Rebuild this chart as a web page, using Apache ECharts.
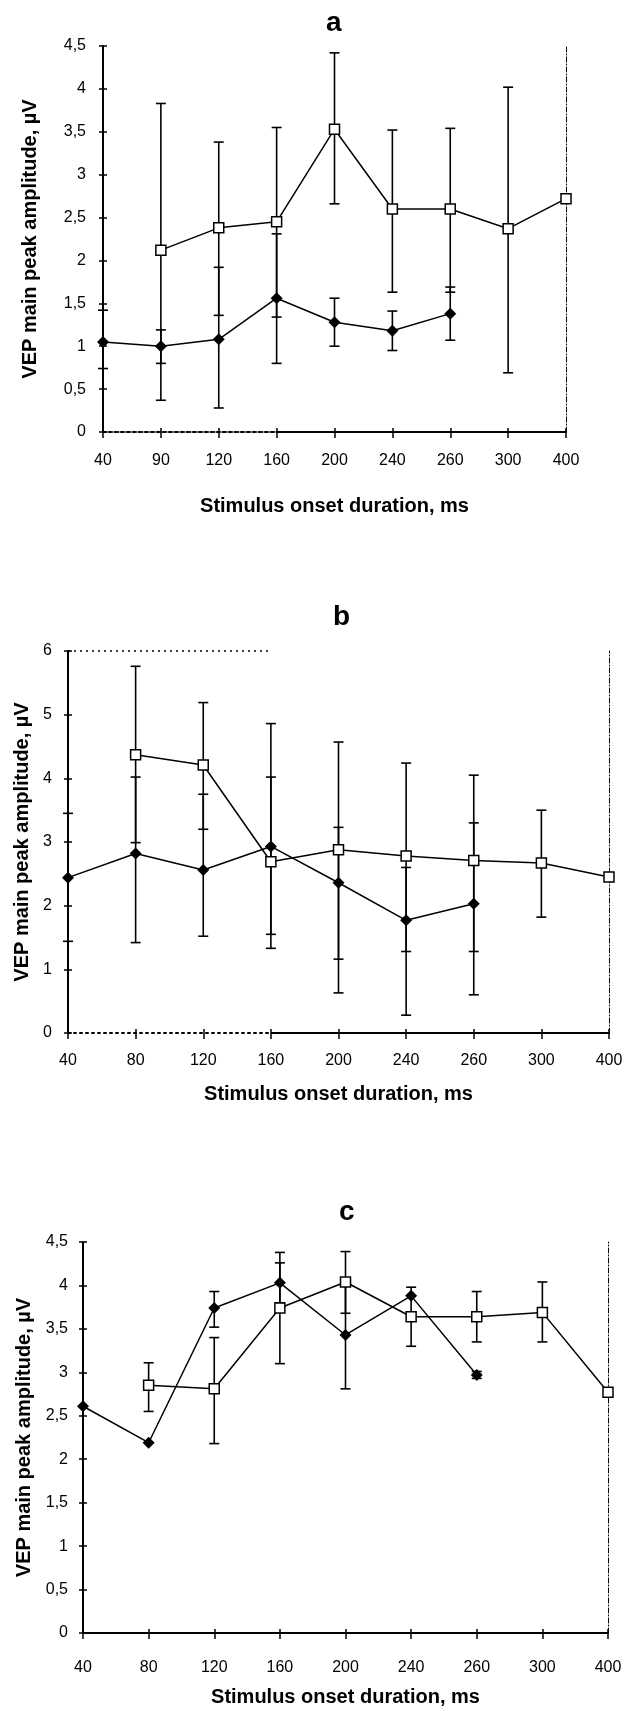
<!DOCTYPE html>
<html>
<head>
<meta charset="utf-8">
<script src="https://cdn.jsdelivr.net/npm/echarts@6/dist/echarts.min.js"></script>
<style>
html, body { margin: 0; padding: 0; background: #fff; }
#main { width: 626px; height: 1711px; }
</style>
</head>
<body>
<div id="main"></div>
<script>
// x categories (stimulus onset duration, ms)
var catsA = ['40', '90', '120', '160', '200', '240', '260', '300', '400'];
var catsB = ['40', '80', '120', '160', '200', '240', '260', '300', '400'];
var catsC = ['40', '80', '120', '160', '200', '240', '260', '300', '400'];

// y tick values
var yTicksA = [0, 0.5, 1, 1.5, 2, 2.5, 3, 3.5, 4, 4.5];
var yTicksB = [0, 1, 2, 3, 4, 5, 6];
var yTicksC = [0, 0.5, 1, 1.5, 2, 2.5, 3, 3.5, 4, 4.5];

// panel a
var aOpen     = [null, 2.12, 2.38, 2.45, 3.53, 2.60, 2.60, 2.37, 2.72];
var aOpenLo   = [null, 0.37, 1.36, 1.34, 2.66, 1.63, 1.63, 0.69, null];
var aOpenHi   = [null, 3.83, 3.38, 3.55, 4.42, 3.52, 3.54, 4.02, null];
var aFilled   = [1.05, 1.00, 1.08, 1.56, 1.28, 1.18, 1.38, null, null];
var aFilledLo = [0.74, 0.80, 0.28, 0.80, 1.00, 0.95, 1.07, null, null];
var aFilledHi = [1.42, 1.19, 1.92, 2.31, 1.56, 1.41, 1.69, null, null];

// panel b
var bOpen     = [null, 4.37, 4.21, 2.69, 2.88, 2.78, 2.71, 2.67, 2.45];
var bOpenLo   = [null, 2.99, 3.20, 1.33, 1.16, 1.28, 1.28, 1.82, null];
var bOpenHi   = [null, 5.76, 5.19, 4.86, 4.57, 4.24, 4.05, 3.50, null];
var bFilled   = [2.44, 2.82, 2.56, 2.93, 2.36, 1.77, 2.03, null, null];
var bFilledLo = [1.44, 1.42, 1.52, 1.55, 0.63, 0.28, 0.60, null, null];
var bFilledHi = [3.45, 4.02, 3.75, 4.02, 3.23, 2.60, 3.30, null, null];

// panel c
var cOpen     = [null, 2.85, 2.81, 3.74, 4.04, 3.64, 3.64, 3.69, 2.77];
var cOpenLo   = [null, 2.55, 2.18, 3.10, 3.68, 3.30, 3.35, 3.35, null];
var cOpenHi   = [null, 3.11, 3.40, 4.38, 4.39, 3.98, 3.93, 4.04, null];
var cFilled   = [2.61, 2.19, 3.74, 4.03, 3.43, 3.88, 2.97, null, null];
var cFilledLo = [null, null, 3.52, 3.80, 2.81, null, 2.93, null, null];
var cFilledHi = [null, null, 3.93, 4.26, 4.05, null, 3.01, null, null];

var xTitle = 'Stimulus onset duration, ms';
var yTitle = 'VEP main peak amplitude, µV';
var FONT = 'Liberation Sans';

var panels = [
    {title: 'a', cats: catsA, yTicks: yTicksA,
     open: aOpen, openLo: aOpenLo, openHi: aOpenHi,
     filled: aFilled, filledLo: aFilledLo, filledHi: aFilledHi,
     grid: {left: 103, top: 46, width: 463, height: 386},
     titlePos: {left: 321, top: 4},
     xLabelMargin: 21, yLabelMargin: 17, xNameGap: 64, yNameGap: 63,
     dottedBase: true, solidFrom: '160', topBorder: true},
    {title: 'b', cats: catsB, yTicks: yTicksB,
     open: bOpen, openLo: bOpenLo, openHi: bOpenHi,
     filled: bFilled, filledLo: bFilledLo, filledHi: bFilledHi,
     grid: {left: 68, top: 651, width: 541, height: 382},
     titlePos: {left: 328, top: 598},
     xLabelMargin: 20, yLabelMargin: 16, xNameGap: 51, yNameGap: 34,
     dottedBase: true, solidFrom: '160', topBorder: false, topPartTo: '160'},
    {title: 'c', cats: catsC, yTicks: yTicksC,
     open: cOpen, openLo: cOpenLo, openHi: cOpenHi,
     filled: cFilled, filledLo: cFilledLo, filledHi: cFilledHi,
     grid: {left: 83, top: 1242, width: 525, height: 391},
     titlePos: {left: 334, top: 1193},
     xLabelMargin: 27, yLabelMargin: 15, xNameGap: 54, yNameGap: 49,
     dottedBase: false, topBorder: true}
];

// [index, low, high] for the error bars
function errData(lo, hi) {
    var out = [];
    for (var i = 0; i < lo.length; i++) {
        if (lo[i] != null && hi[i] != null) out.push([i, lo[i], hi[i]]);
    }
    return out;
}

function lineData(arr) {
    return arr.map(function (v) { return v == null ? '-' : v; });
}

function renderErr(params, api) {
    var x = api.value(0);
    var top = api.coord([x, api.value(2)]);
    var bot = api.coord([x, api.value(1)]);
    var w = 5;
    var st = {stroke: '#000', lineWidth: 1.6};
    return {
        type: 'group',
        children: [
            {type: 'line', shape: {x1: top[0], y1: top[1], x2: bot[0], y2: bot[1]}, style: st},
            {type: 'line', shape: {x1: top[0] - w, y1: top[1], x2: top[0] + w, y2: top[1]}, style: st},
            {type: 'line', shape: {x1: bot[0] - w, y1: bot[1], x2: bot[0] + w, y2: bot[1]}, style: st}
        ]
    };
}

var option = {
    animation: false,
    backgroundColor: '#fff',
    title: [], grid: [], xAxis: [], yAxis: [], series: []
};

panels.forEach(function (p, k) {
    var yMin = p.yTicks[0];
    var yMax = p.yTicks[p.yTicks.length - 1];
    var yStep = p.yTicks[1] - p.yTicks[0];
    var xi = k * 3, yi = k * 3;

    option.title.push({
        text: p.title, left: p.titlePos.left, top: p.titlePos.top,
        textStyle: {fontFamily: FONT, fontWeight: 'bold', fontSize: 28, color: '#000'}
    });
    option.grid.push({left: p.grid.left, top: p.grid.top, width: p.grid.width, height: p.grid.height, show: false});

    // main x axis
    option.xAxis.push({
        gridIndex: k, type: 'category', data: p.cats, boundaryGap: false, position: 'bottom',
        axisLine: {lineStyle: {color: '#000', width: 2, type: p.dottedBase ? [2, 4] : 'solid'}},
        axisTick: {show: true, length: 6, lineStyle: {color: '#000', width: 1.5}},
        axisLabel: {margin: p.xLabelMargin, color: '#000', fontSize: 16, fontFamily: FONT},
        splitLine: {show: false},
        name: xTitle, nameLocation: 'middle', nameGap: p.xNameGap,
        nameTextStyle: {fontFamily: FONT, fontWeight: 'bold', fontSize: 20, color: '#000'},
        z: 5
    });
    // inner half of the crossing ticks
    option.xAxis.push({
        gridIndex: k, type: 'category', data: p.cats, boundaryGap: false, position: 'bottom',
        axisLine: {show: false},
        axisTick: {show: true, inside: true, length: 4, lineStyle: {color: '#000', width: 1.5}},
        axisLabel: {show: false}, splitLine: {show: false}
    });
    // top border
    option.xAxis.push({
        gridIndex: k, type: 'category', data: p.cats, boundaryGap: false, position: 'top',
        axisLine: {show: p.topBorder, lineStyle: {color: '#000', width: 1.5, type: [4, 2]}},
        axisTick: {show: false}, axisLabel: {show: false}, splitLine: {show: false}
    });

    // main y axis
    option.yAxis.push({
        gridIndex: k, type: 'value', min: yMin, max: yMax, interval: yStep, position: 'left',
        axisLine: {show: true, lineStyle: {color: '#000', width: 2}},
        axisTick: {show: true, length: 4, lineStyle: {color: '#000', width: 1.5}},
        axisLabel: {margin: p.yLabelMargin, color: '#000', fontSize: 16, fontFamily: FONT,
            formatter: function (v) { return String(v).replace('.', ','); }},
        splitLine: {show: false},
        name: yTitle, nameLocation: 'middle', nameGap: p.yNameGap,
        nameTextStyle: {fontFamily: FONT, fontWeight: 'bold', fontSize: 20, color: '#000'},
        z: 5
    });
    option.yAxis.push({
        gridIndex: k, type: 'value', min: yMin, max: yMax, interval: yStep, position: 'left',
        axisLine: {show: false},
        axisTick: {show: true, inside: true, length: 4, lineStyle: {color: '#000', width: 1.5}},
        axisLabel: {show: false}, splitLine: {show: false}
    });
    // right border
    option.yAxis.push({
        gridIndex: k, type: 'value', min: yMin, max: yMax, interval: yStep, position: 'right',
        axisLine: {show: true, lineStyle: {color: '#000', width: 1, type: [5, 2, 1, 2]}},
        axisTick: {show: false}, axisLabel: {show: false}, splitLine: {show: false}
    });

    var marks = [];
    if (p.solidFrom) {
        marks.push([{coord: [p.solidFrom, yMin], lineStyle: {type: 'solid', width: 2}},
                    {coord: [p.cats[p.cats.length - 1], yMin]}]);
    }
    if (p.topPartTo) {
        marks.push([{coord: [p.cats[0], yMax], lineStyle: {type: [2, 4], width: 1.5}},
                    {coord: [p.topPartTo, yMax]}]);
    }

    option.series.push({
        type: 'custom', xAxisIndex: xi, yAxisIndex: yi, renderItem: renderErr,
        encode: {x: 0, y: [1, 2]}, data: errData(p.openLo, p.openHi), z: 2, silent: true, clip: false
    });
    option.series.push({
        type: 'custom', xAxisIndex: xi, yAxisIndex: yi, renderItem: renderErr,
        encode: {x: 0, y: [1, 2]}, data: errData(p.filledLo, p.filledHi), z: 2, silent: true, clip: false
    });
    option.series.push({
        type: 'line', xAxisIndex: xi, yAxisIndex: yi, data: lineData(p.open),
        symbol: 'rect', symbolSize: 10, showAllSymbol: true, clip: false, silent: true,
        itemStyle: {color: '#fff', borderColor: '#000', borderWidth: 1.5},
        lineStyle: {color: '#000', width: 1.5}, z: 3
    });
    option.series.push({
        type: 'line', xAxisIndex: xi, yAxisIndex: yi, data: lineData(p.filled),
        symbol: 'diamond', symbolSize: 12, showAllSymbol: true, clip: false, silent: true,
        itemStyle: {color: '#000'},
        lineStyle: {color: '#000', width: 1.5}, z: 4,
        markLine: {silent: true, symbol: ['none', 'none'], label: {show: false},
            lineStyle: {color: '#000'}, data: marks}
    });
});

var myChart = echarts.init(document.getElementById('main'));
myChart.setOption(option);
</script>
</body>
</html>
